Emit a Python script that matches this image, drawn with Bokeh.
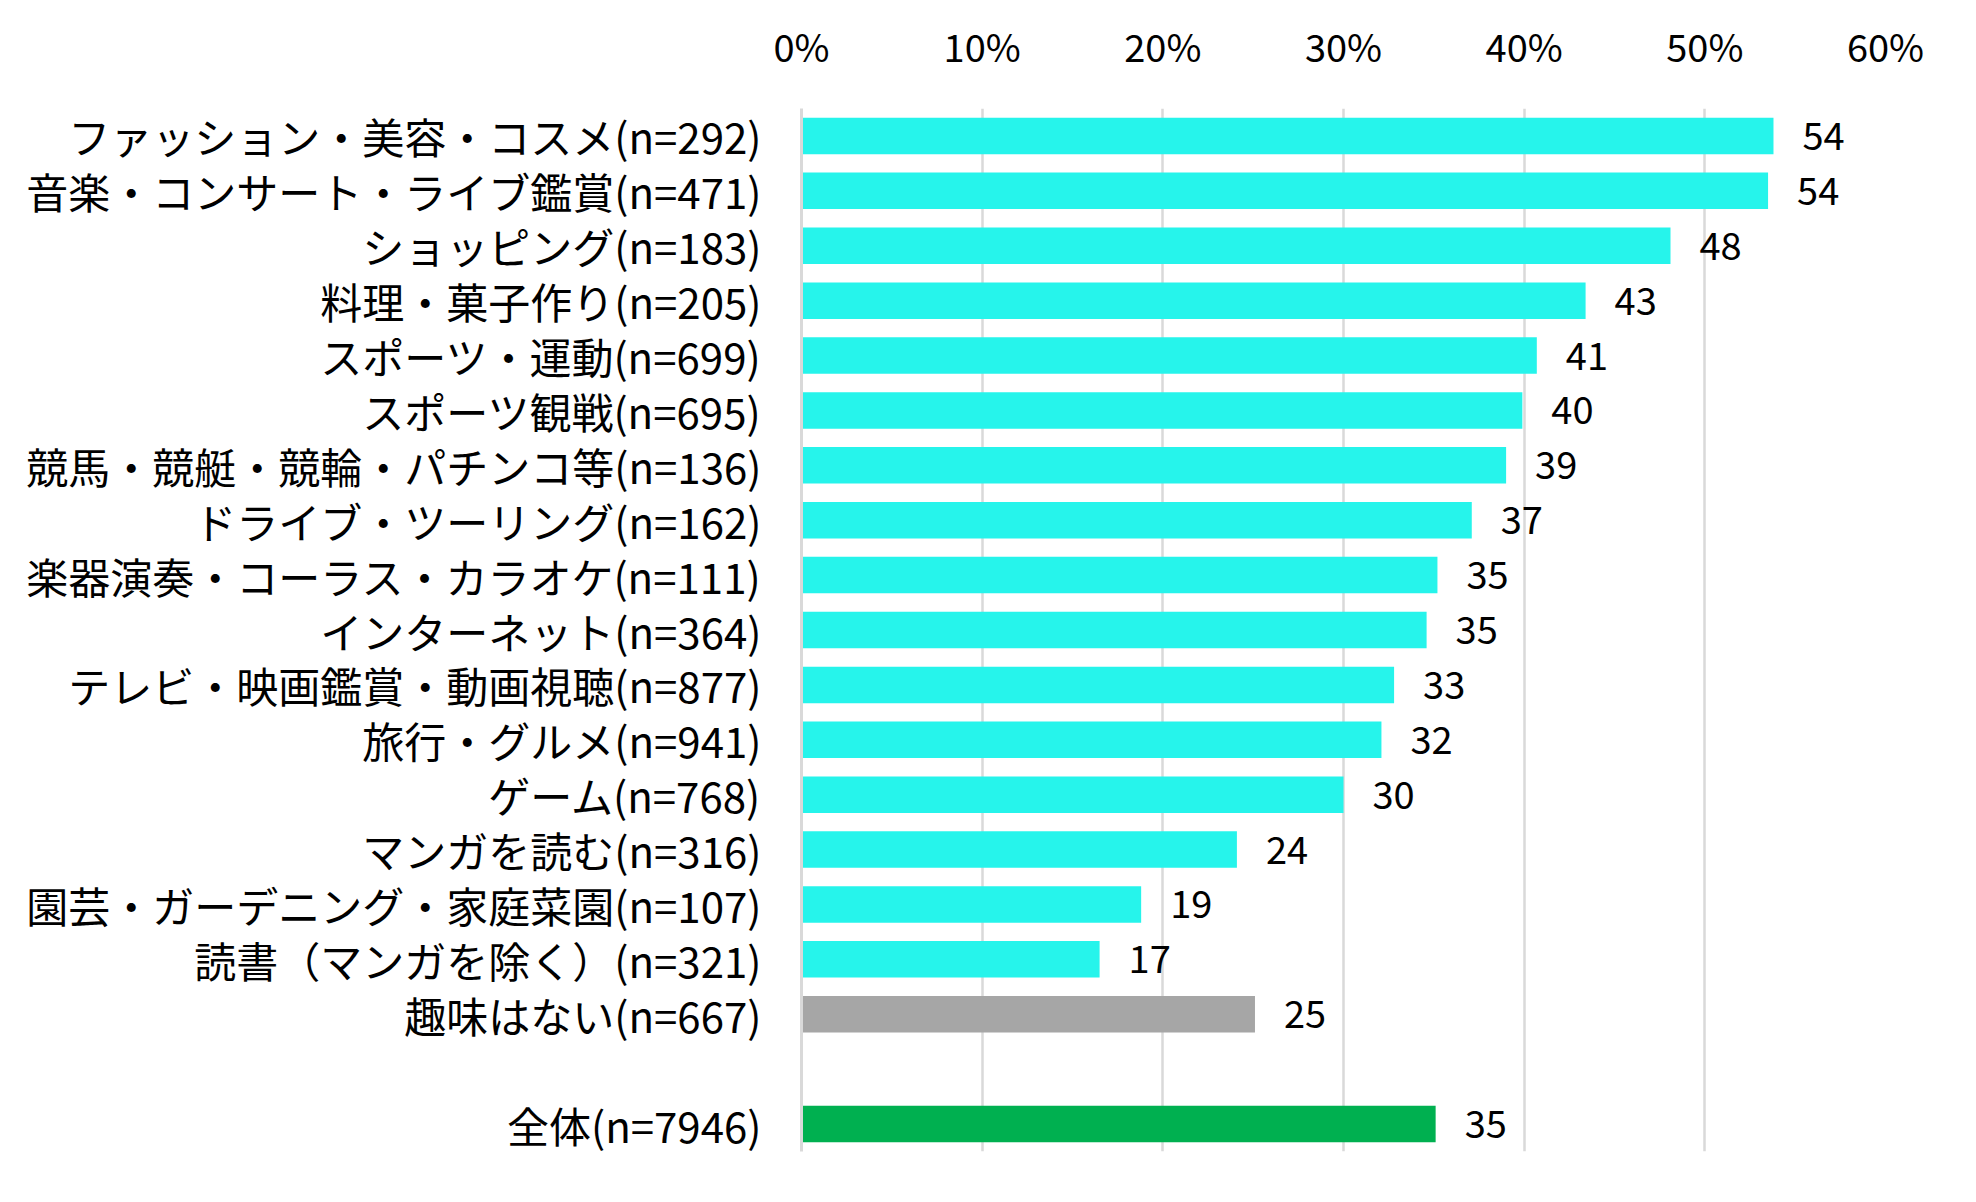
from bokeh.plotting import figure
from bokeh.models import FactorRange, Range1d, FixedTicker, PrintfTickFormatter, ColumnDataSource
from bokeh.core.properties import value
from bokeh.embed import file_html
from bokeh.resources import INLINE

# ---- data ----
categories = [
    "ファッション・美容・コスメ(n=292)",
    "音楽・コンサート・ライブ鑑賞(n=471)",
    "ショッピング(n=183)",
    "料理・菓子作り(n=205)",
    "スポーツ・運動(n=699)",
    "スポーツ観戦(n=695)",
    "競馬・競艇・競輪・パチンコ等(n=136)",
    "ドライブ・ツーリング(n=162)",
    "楽器演奏・コーラス・カラオケ(n=111)",
    "インターネット(n=364)",
    "テレビ・映画鑑賞・動画視聴(n=877)",
    "旅行・グルメ(n=941)",
    "ゲーム(n=768)",
    "マンガを読む(n=316)",
    "園芸・ガーデニング・家庭菜園(n=107)",
    "読書（マンガを除く）(n=321)",
    "趣味はない(n=667)",
    "全体(n=7946)",
]
values = [53.8, 53.5, 48.1, 43.4, 40.7, 39.9, 39.0, 37.1, 35.2, 34.6,
          32.8, 32.1, 30.0, 24.1, 18.8, 16.5, 25.1, 35.1]
value_labels = ["54", "54", "48", "43", "41", "40", "39", "37", "35", "35",
                "33", "32", "30", "24", "19", "17", "25", "35"]
bar_colors = ["#26F4EB"] * 16 + ["#A6A6A6", "#00B050"]
x_ticks = [0, 10, 20, 30, 40, 50, 60]
blank_slot = " "

FONT = "Noto Sans CJK JP"

# order on the axis (top to bottom), with an empty slot before 全体
slots = categories[:17] + [blank_slot] + categories[17:]
factors = list(reversed(slots))

src = ColumnDataSource(data=dict(cat=categories, val=values, lab=value_labels, color=bar_colors))

p = figure(width=1960, height=1186, y_range=FactorRange(factors=factors),
           x_range=Range1d(0, 60), x_axis_location="above",
           output_backend="svg", toolbar_location=None)
p.min_border_left = 801
p.min_border_right = 75
p.min_border_top = 108
p.min_border_bottom = 35
p.outline_line_color = None
p.background_fill_color = "white"
p.border_fill_color = "white"

p.hbar(y="cat", left=0, right="val", height=0.665, fill_color="color",
       line_color=None, source=src)
p.text(x="val", y="cat", text="lab", x_offset=29, text_align="left",
       text_baseline="middle", text_font=value(FONT), text_font_size="38px",
       text_color="black", source=src)

p.xaxis.ticker = FixedTicker(ticks=x_ticks)
p.xaxis.formatter = PrintfTickFormatter(format="%d%%")
p.xaxis.axis_line_color = None
p.xaxis.major_tick_line_color = None
p.xaxis.minor_tick_line_color = None
p.xaxis.major_label_text_font = FONT
p.xaxis.major_label_text_font_size = "38px"
p.xaxis.major_label_text_color = "black"
p.xaxis.major_label_standoff = 30

p.yaxis.axis_line_color = "#d9d9d9"
p.yaxis.axis_line_width = 3
p.yaxis.major_tick_line_color = None
p.yaxis.minor_tick_line_color = None
p.yaxis.major_label_text_font = FONT
p.yaxis.major_label_text_font_size = "42px"
p.yaxis.major_label_text_color = "black"
p.yaxis.major_label_standoff = 34

p.xgrid.grid_line_color = "#d9d9d9"
p.xgrid.grid_line_width = 2.5
p.ygrid.grid_line_color = None

open("out.html", "w").write(file_html(p, INLINE))
